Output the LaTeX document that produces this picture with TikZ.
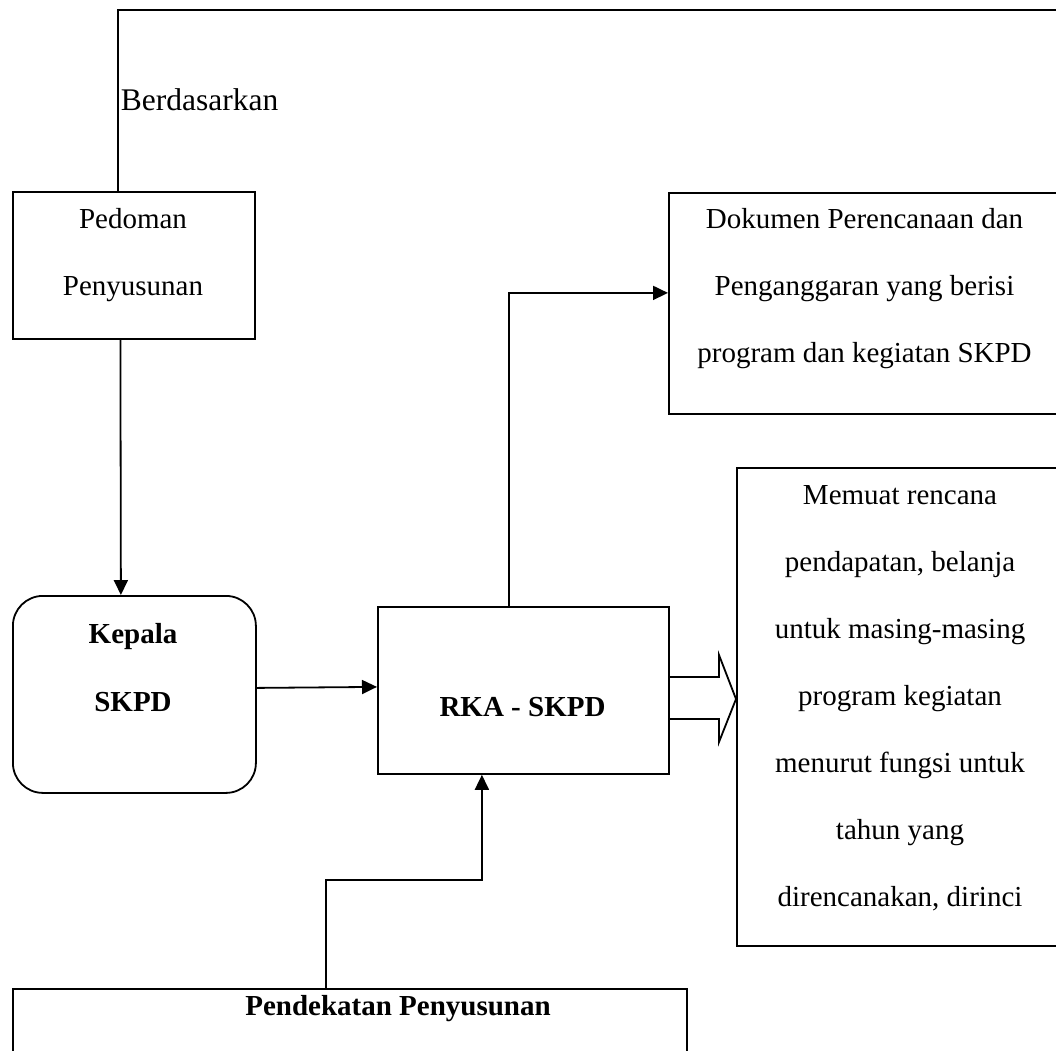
\documentclass[tikz,border=0pt]{standalone}
\usepackage{fontspec}
\setmainfont{Liberation Serif}
\usetikzlibrary{arrows.meta}
\begin{document}
\begin{tikzpicture}[x=1pt,y=-1pt,
  line width=1.8pt,
  box/.style={draw, rectangle, inner sep=0pt, anchor=north west},
  rbox/.style={box, rounded corners=30pt},
  txt/.style={inner sep=0pt, anchor=base, font=\fontsize{29}{35}\selectfont},
  btxt/.style={txt, font=\fontsize{29}{35}\selectfont\bfseries},
  arr/.style={-{Triangle[length=15pt,width=14pt]}}
]
\useasboundingbox (0,0) rectangle (1056,1050);
\clip (0,0) rectangle (1056,1050);

% boxes
\node[box, minimum width=242pt, minimum height=147pt] (ped) at (12,191) {};
\node[rbox, minimum width=243pt, minimum height=197pt] (kep) at (12,595) {};
\node[box, minimum width=291pt, minimum height=167pt] (rka) at (377,606) {};
\node[box, minimum width=400pt, minimum height=221pt] (dok) at (668,192) {};
\node[box, minimum width=330pt, minimum height=478pt] (mem) at (736,467) {};
\node[box, minimum width=674pt, minimum height=120pt] (pen) at (12,988) {};

% texts
\node[inner sep=0pt, anchor=base west, font=\fontsize{31.5}{38}\selectfont] (berd) at (120,110) {Berdasarkan};
\node[txt] (ped1) at (133,228) {Pedoman};
\node[txt] (ped2) at (133,295) {Penyusunan};
\node[btxt] (kep1) at (133,643) {Kepala};
\node[btxt] (kep2) at (133,711) {SKPD};
\node[btxt] (rka1) at (522.5,716) {RKA - SKPD};
\node[txt] (dok1) at (864.5,228) {Dokumen Perencanaan dan};
\node[txt] (dok2) at (864.5,295) {Penganggaran yang berisi};
\node[txt] (dok3) at (864.5,362) {program dan kegiatan SKPD};
\node[txt] (mem1) at (900,504) {Memuat rencana};
\node[txt] (mem2) at (900,571) {pendapatan, belanja};
\node[txt] (mem3) at (900,638) {untuk masing-masing};
\node[txt] (mem4) at (900,705) {program kegiatan};
\node[txt] (mem5) at (900,772) {menurut fungsi untuk};
\node[txt] (mem6) at (900,839) {tahun yang};
\node[txt] (mem7) at (900,906) {direncanakan, dirinci};
\node[btxt] (pen1) at (398,1015) {Pendekatan Penyusunan};

% connectors
\coordinate (topright) at (1070,10);
\draw ([xshift=-16pt]ped.north) |- (topright);
\draw[arr] ([xshift=-13.5pt]ped.south) -- ([xshift=-13.5pt]kep.north);
\draw[arr] ([yshift=6.5pt]kep.east) -- ([yshift=3.5pt]rka.west);
\draw[arr] ([xshift=-14.5pt]rka.north) |- ([yshift=10.5pt]dok.west);
\draw[arr] ([xshift=-24pt]pen.north) -- ++(0,-108) -| ([xshift=-41.5pt]rka.south);

% block arrow
\draw[line join=miter] (rka.east |- 0,677) -- (719,677) -- (719,655) -- (mem.west |- 0,699) -- (719,742) -- (719,719) -- (rka.east |- 0,719);
\end{tikzpicture}
\end{document}
